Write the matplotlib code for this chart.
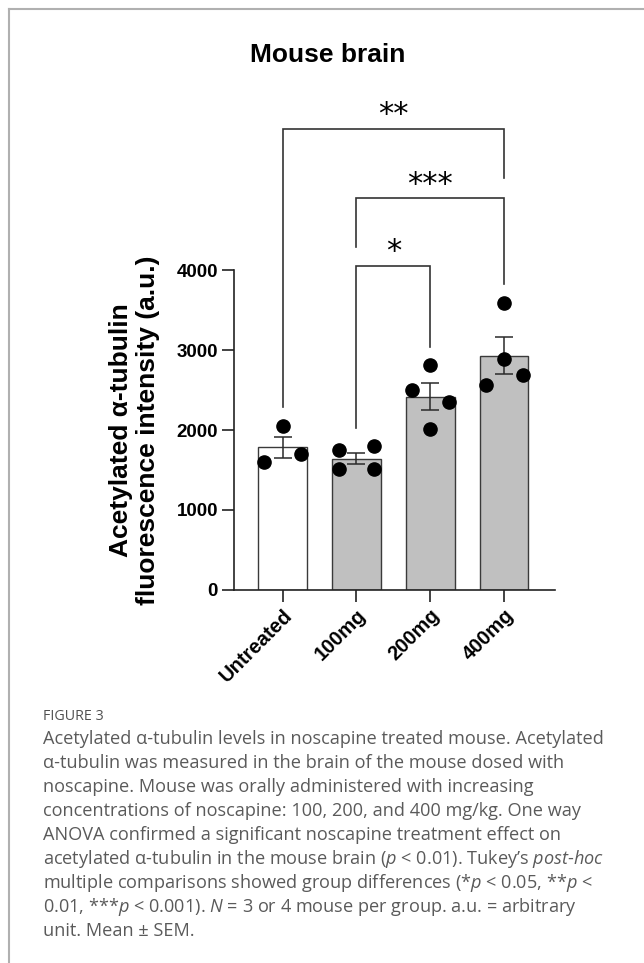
import numpy as np
import matplotlib
matplotlib.use("Agg")
import matplotlib.pyplot as plt
from matplotlib.lines import Line2D
from matplotlib import transforms

plt.rcParams['font.family'] = ['Liberation Sans', 'DejaVu Sans']
plt.rcParams['mathtext.fontset'] = 'custom'
plt.rcParams['mathtext.rm'] = 'Open Sans'
plt.rcParams['mathtext.it'] = 'Open Sans:italic'

# data
groups = ["Untreated", "100mg", "200mg", "400mg"]
means = [1784, 1642, 2417, 2930]
sems = [133, 73, 167, 227]
points = [
    [1596, 2050, 1704],
    [1512, 1746, 1512, 1796],
    [2500, 2012, 2808, 2346],
    [2567, 2883, 3583, 2688],
]
offsets = [
    [-0.25, 0.0, 0.25],
    [-0.24, -0.24, 0.24, 0.24],
    [-0.25, 0.0, 0.0, 0.25],
    [-0.25, 0.0, 0.0, 0.25],
]
bar_colors = ["white", "#c0c0c0", "#c0c0c0", "#c0c0c0"]

# comparisons: (left group, right group, label, top, left leg end, right leg end)
comparisons = [
    (0, 3, "**", 5760, 2290, 5145),
    (1, 3, "***", 4905, 4290, 3820),
    (1, 2, "*", 4055, 2020, 3040),
]
star_y = [6040, 5175, 4335]

caption_title = "FIGURE 3"
caption_lines = [
    "Acetylated α-tubulin levels in noscapine treated mouse. Acetylated",
    "α-tubulin was measured in the brain of the mouse dosed with",
    "noscapine. Mouse was orally administered with increasing",
    "concentrations of noscapine: 100, 200, and 400 mg/kg. One way",
    "ANOVA confirmed a significant noscapine treatment effect on",
    "acetylated α-tubulin in the mouse brain ($p$ < 0.01). Tukey\u2019s $post$-$hoc$",
    "multiple comparisons showed group differences (*$p$ < 0.05, **$p$ <",
    "0.01, ***$p$ < 0.001). $N$ = 3 or 4 mouse per group. a.u. = arbitrary",
    "unit. Mean ± SEM.",
]

W, H = 644, 963
fig = plt.figure(figsize=(W / 100, H / 100), dpi=100)
ax = fig.add_axes([234 / W, 1 - 590 / H, (555 - 234) / W, 320 / H])

x = np.arange(len(groups))
ax.bar(x, means, width=0.66, color=bar_colors, edgecolor="#3a3a3a", linewidth=1.0, zorder=1)
ax.errorbar(x, means, yerr=sems, fmt="none", ecolor="#2a2a2a", elinewidth=1.1,
            capsize=6.3, capthick=1.1, zorder=2)
for i, vals in enumerate(points):
    ax.plot(x[i] + np.array(offsets[i]), vals, "o", color="black", ms=9.5,
            linestyle="none", zorder=3, clip_on=False)

star_tr = transforms.offset_copy(ax.transData, fig=fig, y=-12, units="points")
for (a, b, lab, top, la, rb), sy in zip(comparisons, star_y):
    ax.plot([x[a], x[a], x[b], x[b]], [la, top, top, rb], color="#333333",
            lw=1.2, clip_on=False, solid_joinstyle="miter")
    ax.text((x[a] + x[b]) / 2, sy, lab, ha="center", va="baseline", fontsize=22,
            family="DejaVu Sans", transform=star_tr, clip_on=False)

ax.set_xlim(-0.66, 3.69)
ax.set_ylim(0, 4000)
ax.set_yticks([0, 1000, 2000, 3000, 4000])
ax.set_xticks(x)
ax.set_xticklabels(groups, rotation=45, ha="right", rotation_mode="anchor",
                   fontsize=14.5, fontweight="bold")
for lab in ax.get_yticklabels():
    lab.set_fontsize(13.5)
    lab.set_fontweight("bold")
ax.tick_params(axis="both", length=8.5, width=1.2, color="#222222")
ax.tick_params(axis="x", pad=3)
ax.tick_params(axis="y", pad=3)
for s in ["top", "right"]:
    ax.spines[s].set_visible(False)
for s in ["left", "bottom"]:
    ax.spines[s].set_linewidth(1.2)
    ax.spines[s].set_color("#222222")

ax.set_ylabel("Acetylated α-tubulin\nfluorescence intensity (a.u.)", fontsize=19,
              fontweight="bold", linespacing=1.2, va="center")
ax.yaxis.set_label_coords(-0.31, 0.5)
ax.set_title("Mouse brain", fontsize=19, fontweight="bold", x=0.293, y=1.672,
             va="center", pad=0)

# caption
fig.text(43 / W, 1 - 716 / H, caption_title, fontsize=10.3, color="#505050",
         family="Open Sans", va="center")
for i, line in enumerate(caption_lines):
    fig.text(43 / W, 1 - (744 + 24 * i) / H, line, fontsize=13.05, color="#5a5a5a",
             family="Open Sans", va="baseline")

# page frame
fig.add_artist(Line2D([9 / W, 9 / W], [0, 1 - 9 / H], transform=fig.transFigure,
                      color="#b0b0b0", lw=1.5))
fig.add_artist(Line2D([9 / W, 1], [1 - 9 / H, 1 - 9 / H], transform=fig.transFigure,
                      color="#b0b0b0", lw=1.5))

fig.savefig("out.png", dpi=100)
